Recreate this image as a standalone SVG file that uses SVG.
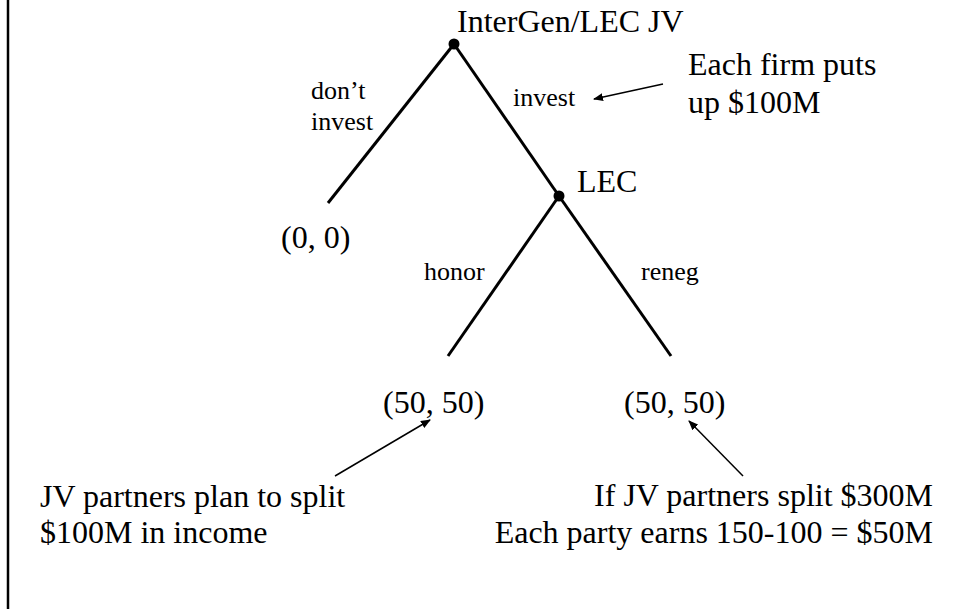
<svg xmlns="http://www.w3.org/2000/svg" width="959" height="609" viewBox="0 0 959 609">
<defs>
<style>
text{font-family:"Liberation Serif","Times New Roman",serif;fill:#000}
.big{font-size:32px}
.sm{font-size:26px}
.edge{stroke:#000;stroke-width:3;fill:none}
.arr{stroke:#000;stroke-width:1.5;fill:none;marker-end:url(#ah)}
</style>
<marker id="ah" markerWidth="10" markerHeight="8" refX="9" refY="4" orient="auto" markerUnits="userSpaceOnUse">
<path d="M0,0 L10,4 L0,8 Z" fill="#000"/>
</marker>
</defs>
<rect width="959" height="609" fill="#fff"/>
<line x1="8" y1="0" x2="8" y2="609" stroke="#000" stroke-width="2.5"/>
<g id="connectors">
<line class="edge" x1="454" y1="44" x2="328" y2="203"/>
<line class="edge" x1="454" y1="44" x2="559" y2="196"/>
<line class="edge" x1="559" y1="196" x2="448" y2="356"/>
<line class="edge" x1="559" y1="196" x2="671" y2="356"/>
<line class="arr" x1="663" y1="84" x2="594" y2="99"/>
<line class="arr" x1="335" y1="476" x2="430" y2="420"/>
<line class="arr" x1="743" y1="476" x2="689" y2="421"/>
</g>
<g id="root">
<circle cx="454" cy="44" r="5.5" fill="#000"/>
<text class="big" x="457" y="32">InterGen/LEC JV</text>
</g>
<g id="lec">
<circle cx="559" cy="196" r="5.5" fill="#000"/>
<text class="big" x="577" y="192">LEC</text>
</g>
<g id="labels">
<text class="sm" x="311" y="99">don’t</text>
<text class="sm" x="311" y="130">invest</text>
<text class="sm" x="513" y="106">invest</text>
<text class="sm" x="424" y="280">honor</text>
<text class="sm" x="641" y="280">reneg</text>
</g>
<g id="payoff-dont">
<text class="big" x="281" y="248">(0, 0)</text>
</g>
<g id="payoff-honor">
<text class="big" x="383" y="413">(50, 50)</text>
</g>
<g id="payoff-reneg">
<text class="big" x="624" y="413">(50, 50)</text>
</g>
<g id="note-invest">
<text class="big" x="688" y="75">Each firm puts</text>
<text class="big" x="688" y="113">up $100M</text>
</g>
<g id="note-honor">
<text class="big" x="40" y="507">JV partners plan to split</text>
<text class="big" x="40" y="543">$100M in income</text>
</g>
<g id="note-reneg">
<text class="big" x="933" y="506" text-anchor="end">If JV partners split $300M</text>
<text class="big" x="933" y="543" text-anchor="end">Each party earns 150-100 = $50M</text>
</g>
</svg>
